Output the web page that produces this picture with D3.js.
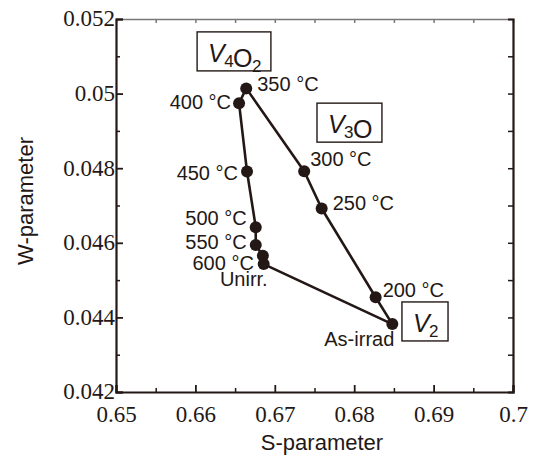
<!DOCTYPE html>
<html>
<head>
<meta charset="utf-8">
<script src="https://cdn.jsdelivr.net/npm/d3@7"></script>
<style>
  body { margin: 0; background: #fff; }
  .tick-serif { font-family: "Liberation Serif", "DejaVu Serif", "Times New Roman", serif; }
</style>
</head>
<body>
<script>
// data: S and W parameter after each anneal
let labels = ["As-irrad", "200 °C", "250 °C", "300 °C", "350 °C", "400 °C", "450 °C", "500 °C", "550 °C", "600 °C", "Unirr."];
let sValues = [0.6848, 0.6827, 0.6759, 0.6737, 0.6664, 0.6655, 0.6665, 0.6676, 0.6676, 0.6685, 0.6686];
let wValues = [0.04382, 0.04454, 0.04692, 0.04792, 0.05014, 0.04974, 0.04791, 0.04642, 0.04594, 0.04565, 0.04543];

let xTicks = [0.65, 0.66, 0.67, 0.68, 0.69, 0.7];
let yTicks = [0.042, 0.044, 0.046, 0.048, 0.05, 0.052];

// boxed vacancy-cluster annotations: [main, sub] pieces, anchored at text start / baseline
let clusters = [
  { name: "V4O2", parts: [["V", "4"], ["O", "2"]], s: 0.6616, w: 0.05085 },
  { name: "V3O", parts: [["V", "3"], ["O", ""]], s: 0.6767, w: 0.04894 },
  { name: "V2", parts: [["V", "2"]], s: 0.6874, w: 0.04361 }
];

let svg = d3.select("body").append("svg")
  .attr("width", 538)
  .attr("height", 462);

let margin = { top: 19, right: 25, bottom: 70, left: 116 };
let width = 538 - margin.left - margin.right;
let height = 462 - margin.top - margin.bottom;

let x = d3.scaleLinear().domain([0.65, 0.7]).range([0, width]);
let y = d3.scaleLinear().domain([0.042, 0.052]).range([height, 0]);

let ink = "#231815";
let sans = "'Liberation Sans', Arial, sans-serif";

let g = svg.append("g").attr("transform", `translate(${margin.left},${margin.top})`);

// minor ticks first
let xMinor = d3.range(0.655, 0.7, 0.01);
let yMinor = d3.range(0.043, 0.052, 0.002);

g.append("g")
  .attr("transform", `translate(0,${height})`)
  .call(d3.axisBottom(x).tickValues(xMinor).tickSize(-4).tickFormat(""))
  .call(a => a.select(".domain").remove())
  .selectAll("line").attr("stroke", ink).attr("stroke-width", 1.5);

g.append("g")
  .call(d3.axisLeft(y).tickValues(yMinor).tickSize(-4).tickFormat(""))
  .call(a => a.select(".domain").remove())
  .selectAll("line").attr("stroke", ink).attr("stroke-width", 1.5);

// top axis, gray, ticks every 0.005
g.append("g")
  .call(d3.axisTop(x).tickValues(d3.range(0.655, 0.7, 0.005)).tickSize(-4).tickFormat(""))
  .call(a => a.select(".domain").attr("stroke", "#777").attr("stroke-width", 1.5))
  .selectAll("line").attr("stroke", "#777").attr("stroke-width", 1.5);

// right axis, ticks every 0.001
g.append("g")
  .attr("transform", `translate(${width},0)`)
  .call(d3.axisRight(y).tickValues(d3.range(0.043, 0.0515, 0.001)).tickSize(-5).tickFormat(""))
  .call(a => a.select(".domain").attr("stroke", ink).attr("stroke-width", 2.2))
  .selectAll("line").attr("stroke", ink).attr("stroke-width", 1.5);

let xAxis = g.append("g")
  .attr("transform", `translate(0,${height})`)
  .call(d3.axisBottom(x).tickValues(xTicks).tickSize(-7).tickPadding(14).tickFormat(d => +d.toFixed(3)));
xAxis.attr("font-family", null);
xAxis.select(".domain").attr("stroke", ink).attr("stroke-width", 2.2);
xAxis.selectAll("line").attr("stroke", ink).attr("stroke-width", 1.8);
xAxis.selectAll("text")
  .attr("class", "tick-serif").style("font-size", "23px").attr("fill", ink)
  .attr("dy", "0.71em");

let yAxis = g.append("g")
  .call(d3.axisLeft(y).tickValues(yTicks).tickSize(-7).tickPadding(1).tickFormat(d => +d.toFixed(3)));
yAxis.attr("font-family", null);
yAxis.select(".domain").attr("stroke", ink).attr("stroke-width", 2.2);
yAxis.selectAll("line").attr("stroke", ink).attr("stroke-width", 1.8);
yAxis.selectAll("text")
  .attr("class", "tick-serif").style("font-size", "23px").attr("fill", ink)
  .attr("dy", "0.3em");

// axis titles
svg.append("text")
  .attr("x", 322).attr("y", 450)
  .attr("text-anchor", "middle")
  .style("font-family", sans).style("font-size", "22px").attr("fill", ink)
  .text("S-parameter");

svg.append("text")
  .attr("transform", "translate(33,201) rotate(-90)")
  .attr("text-anchor", "middle")
  .style("font-family", sans).style("font-size", "22px").attr("fill", ink)
  .text("W-parameter");

// the annealing path
let pts = sValues.map((s, i) => ({ s: s, w: wValues[i], label: labels[i] }));
let path = pts.concat([pts[0]]);

let line = d3.line()
  .x(d => x(d.s))
  .y(d => y(d.w));

g.append("path")
  .datum(path)
  .attr("fill", "none")
  .attr("stroke", ink)
  .attr("stroke-width", 2.6)
  .attr("stroke-linejoin", "round")
  .attr("d", line);

g.selectAll("circle.pt")
  .data(pts)
  .enter().append("circle")
    .attr("class", "pt")
    .attr("cx", d => x(d.s))
    .attr("cy", d => y(d.w))
    .attr("r", 6)
    .attr("fill", ink);

// label placement relative to each point: [dx, dy, anchor]
let labelPos = {
  "As-irrad": [2, 22, "end"],
  "200 °C": [7, 0, "start"],
  "250 °C": [11, 2, "start"],
  "300 °C": [6, -5, "start"],
  "350 °C": [11, 3, "start"],
  "400 °C": [-8, 6, "end"],
  "450 °C": [-9, 8, "end"],
  "500 °C": [-9, -2, "end"],
  "550 °C": [-9, 4, "end"],
  "600 °C": [-9, 14, "end"],
  "Unirr.": [4, 22, "end"]
};

g.selectAll("text.lab")
  .data(pts)
  .enter().append("text")
    .attr("class", "lab")
    .attr("x", d => x(d.s) + labelPos[d.label][0])
    .attr("y", d => y(d.w) + labelPos[d.label][1])
    .attr("text-anchor", d => labelPos[d.label][2])
    .style("font-family", sans).style("font-size", "20px").attr("fill", ink)
    .text(d => d.label);

// boxed cluster names
clusters.forEach(c => {
  let cg = g.append("g");
  let box = cg.append("rect");
  let t = cg.append("text")
    .attr("x", x(c.s)).attr("y", y(c.w))
    .style("font-family", sans).style("font-size", "25px").style("letter-spacing", "-0.6px").attr("fill", ink);
  c.parts.forEach(p => {
    t.append("tspan").style("font-style", p[0] == "V" ? "italic" : "normal").text(p[0]);
    if (p[1] != "") {
      t.append("tspan").style("font-size", "17px").attr("dy", 5).text(p[1]);
      t.append("tspan").attr("dy", -5).text("");
    }
  });
  let bb = t.node().getBBox();
  box.attr("x", bb.x - 11).attr("y", y(c.w) - 30)
    .attr("width", bb.width + 21).attr("height", 39)
    .attr("fill", "#fff")
    .attr("stroke", ink).attr("stroke-width", 1.4);
});
</script>
</body>
</html>
